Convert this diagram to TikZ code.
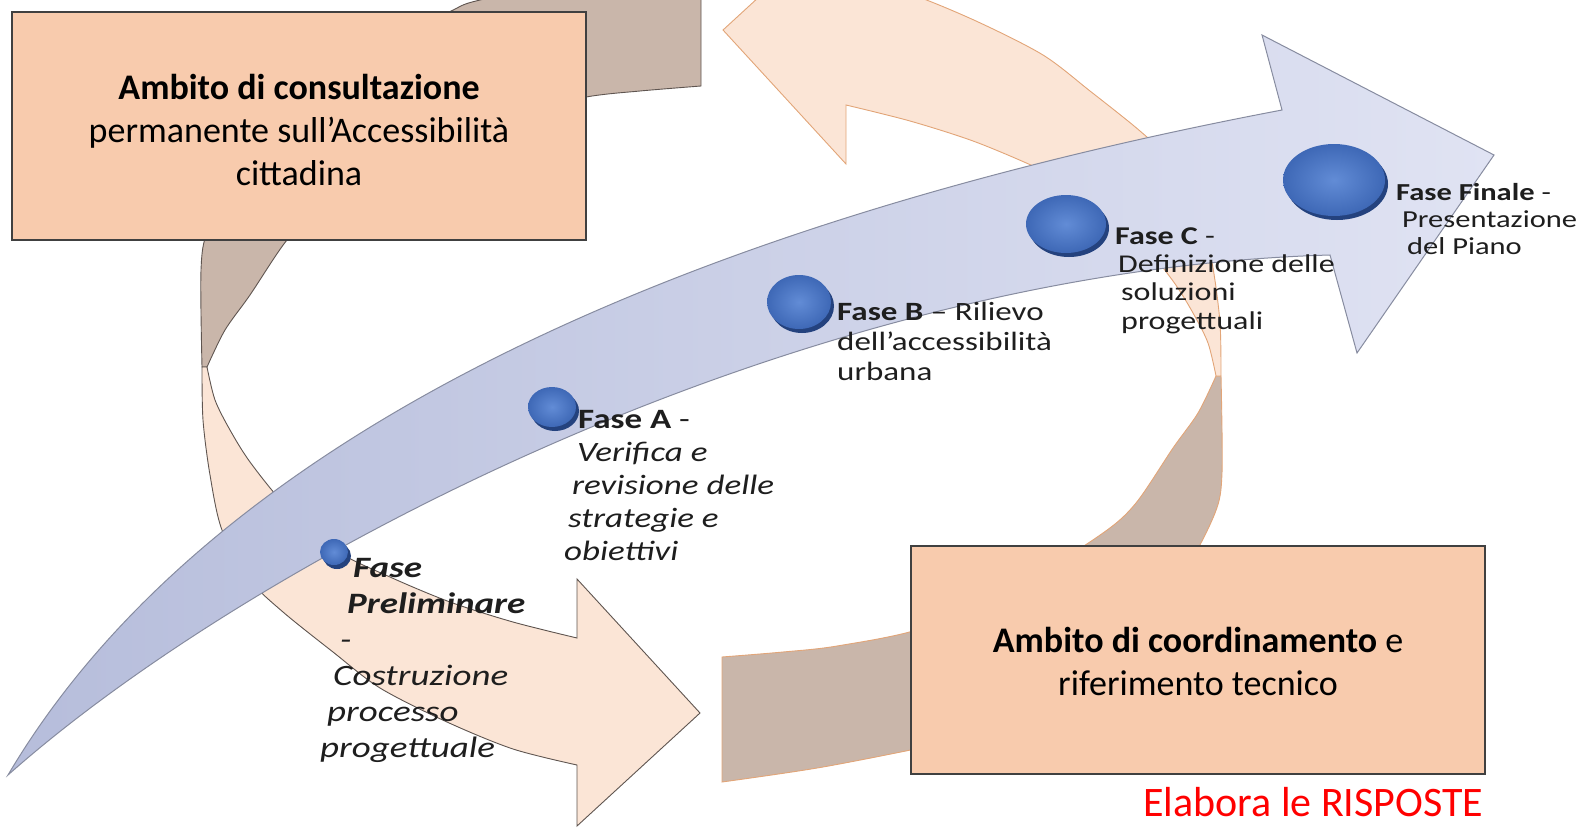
\documentclass[tikz,border=0pt]{standalone}
\usepackage{fontspec}
\setmainfont{Carlito}
\newfontfamily\phasefont{Carlito}[FakeStretch=1.25]
\usetikzlibrary{positioning}

\definecolor{boxpeach}{RGB}{248,203,173}
\definecolor{ringpeach}{RGB}{251,229,214}
\definecolor{ringgray}{RGB}{201,182,170}
\definecolor{ringedge}{RGB}{95,85,80}
\definecolor{ringedgeb}{RGB}{226,165,120}
\definecolor{arrowblueL}{RGB}{182,189,219}
\definecolor{arrowblueR}{RGB}{224,227,243}
\definecolor{arrowedge}{RGB}{135,140,160}
\definecolor{dotblue}{RGB}{62,104,182}
\definecolor{dotlight}{RGB}{98,140,214}
\definecolor{dotshade}{RGB}{36,66,126}
\definecolor{textdark}{RGB}{30,30,30}

\tikzset{
  infobox/.style={draw={rgb,255:red,64;green,64;blue,64}, line width=1.3pt, fill=boxpeach,
    align=center, inner sep=0pt, text=black, font=\fontsize{36}{43}\selectfont},
  ringfront/.style={fill=ringpeach, draw=#1, line width=0.9pt},
  ringback/.style={fill=ringgray, draw=#1, line width=0.9pt},
  phasetext/.style={anchor=base west, align=left, inner sep=0pt, text=textdark},
}

\newcommand{\ringarrow}[1]{%
  \path[ringback=#1] plot[smooth] coordinates {(701,-39) (600,-24) (480,0) (449,12) (380,45)
      (300,100) (240,170) (208,230) (201,270) (202,367)}
    -- plot[smooth] coordinates {(207,367) (225,330) (250,295) (287,240) (320,210) (400,160)
      (500,115) (586,97) (640,91) (701,86)} -- cycle;
  \path[ringfront=#1] plot[smooth] coordinates {(202,367) (203,420) (210,475) (222,530)
      (250,580) (283,612) (333,652) (380,688) (447,722) (513,749) (577,765)}
    -- (577,826) -- (700,713) -- (577,579) -- (577,638)
    -- plot[smooth] coordinates {(577,638) (513,622) (450,602) (390,577) (335,550) (285,505)
      (250,462) (230,430) (215,400) (207,367)} -- cycle;
}

\newcommand{\phasedot}[3]{%
  \fill[dotshade] ([shift={(3,4)}]#1) ellipse (#2 and #3);
  \shade[inner color=dotlight, outer color=dotblue] (#1) ellipse (#2 and #3);
}

\begin{document}
\begin{tikzpicture}[x=1pt, y=-1pt]
  \useasboundingbox (0,0) rectangle (1589,827);
  \clip (0,0) rectangle (1589,827);

  \ringarrow{ringedge}
  \begin{scope}[rotate around={180:(711.5,371.5)}]
    \ringarrow{ringedgeb}
  \end{scope}

  \node[infobox, minimum width=574pt, minimum height=228pt, text height=119pt] (consulta) at (299,126)
    {\textbf{Ambito di consultazione}\\permanente sull’Accessibilità\\cittadina};
  \node[infobox, minimum width=574pt, minimum height=228pt, text height=72pt] (coordina) at (1198,660)
    {\textbf{Ambito di coordinamento} e\\riferimento tecnico};

  \shadedraw[left color=arrowblueL, right color=arrowblueR, draw=arrowedge, line width=1pt]
    (8,775) .. controls (200,450) and (650,230) .. (1282,110) -- (1262,35) -- (1494,155)
    -- (1357,353) -- (1330,255) .. controls (800,270) and (250,560) .. (8,775) -- cycle;

  \coordinate (dotP) at (334,552);
  \coordinate (dotA) at (552,407);
  \coordinate (dotB) at (799,302);
  \coordinate (dotC) at (1066,224);
  \coordinate (dotF) at (1334,180);
  \phasedot{dotP}{14}{13}
  \phasedot{dotA}{24}{20}
  \phasedot{dotB}{32}{27}
  \phasedot{dotC}{40}{29}
  \phasedot{dotF}{51}{36}

  % base anchor sits on the last line
  \node[phasetext, font=\phasefont\fontsize{29.6}{36}\selectfont\itshape] (fasep) at (320,757)
    {\hspace*{33pt}\textbf{Fase}\\\hspace*{27pt}\textbf{Preliminare}\\\hspace*{20pt}-\\
     \hspace*{13pt}Costruzione\\\hspace*{7pt}processo\\progettuale};
  \node[phasetext, font=\phasefont\fontsize{28}{33}\selectfont] (fasea) at (564,560)
    {\hspace*{14pt}\textbf{Fase A} -\\\hspace*{13pt}\textit{Verifica e}\\\hspace*{8pt}\textit{revisione delle}\\
     \hspace*{4pt}\textit{strategie e}\\\textit{obiettivi}};
  \node[phasetext, font=\phasefont\fontsize{26.4}{30}\selectfont] (faseb) at (837,380)
    {\textbf{Fase B} – Rilievo\\dell’accessibilità\\urbana};
  \node[phasetext, font=\phasefont\fontsize{25.6}{28.3}\selectfont] (fasec) at (1115,329)
    {\textbf{Fase C} -\\\hspace*{3pt}Definizione delle\\\hspace*{6pt}soluzioni\\\hspace*{6pt}progettuali};
  \node[phasetext, font=\phasefont\fontsize{24.4}{27}\selectfont] (fasef) at (1396,254)
    {\textbf{Fase Finale} -\\\hspace*{6pt}Presentazione\\\hspace*{11pt}del Piano};

  \node[anchor=base west, inner sep=0pt, text=red, font=\fontsize{42}{50}\selectfont] (risposte)
    at (1143,816) {Elabora le RISPOSTE};
\end{tikzpicture}
\end{document}
